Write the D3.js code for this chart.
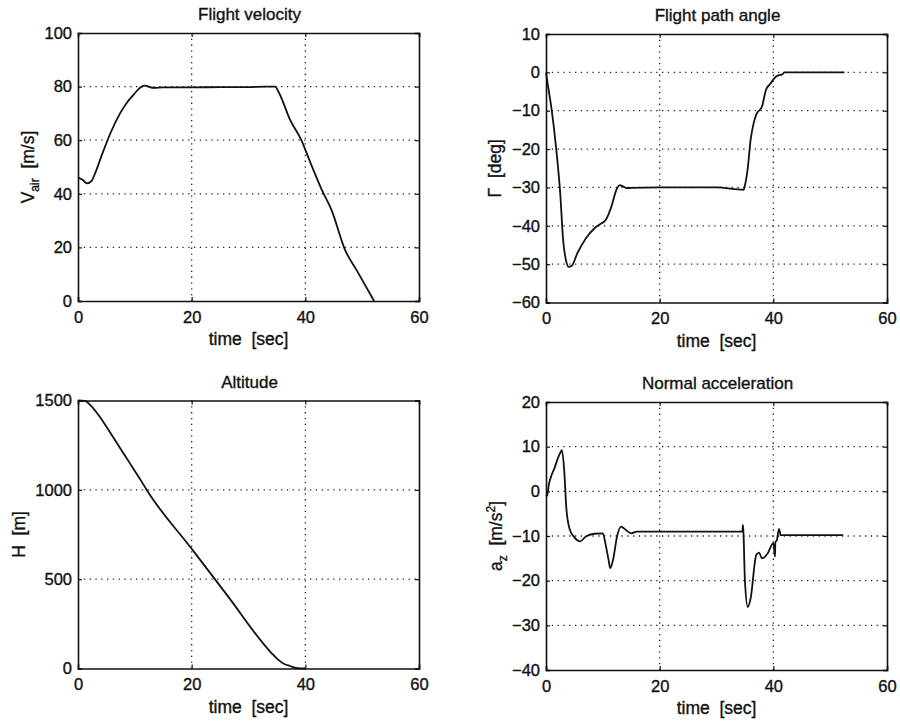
<!DOCTYPE html>
<html>
<head>
<meta charset="utf-8">
<script src="https://cdn.jsdelivr.net/npm/d3@7"></script>
<style>
  body { margin: 0; background: #fff; }
  svg text { font-family: "Liberation Sans", Arial, Helvetica, sans-serif; fill: #111; stroke: #111; stroke-width: 0.35px; }
</style>
</head>
<body>
<div id="chart"></div>
<script>
// ---------------- data ----------------
const timeTicks = [0, 20, 40, 60]

// Flight velocity [m/s]
const velocityTime = [0, 0.8, 1.6, 2.4, 3.0, 4.2, 5.7, 7.4, 8.6, 9.8, 10.6, 11.2, 11.8, 12.4, 13.3, 15, 20, 25, 30, 33, 34.7, 35.3, 37.3, 39.4, 40.8, 42.9, 44.6, 47, 49, 52.1]
const velocityValues = [46.2, 45.2, 43.9, 44.8, 47.6, 54.5, 62.6, 70, 74, 77, 79, 80, 80.4, 80, 79.5, 79.7, 79.7, 79.8, 79.8, 80, 80, 78, 67.7, 59.6, 52.1, 41.5, 34, 19, 11.6, 0]
const velocityTicks = [0, 20, 40, 60, 80, 100]

// Flight path angle [deg]
const gammaTime = [0, 0.3, 1, 1.8, 2.5, 3, 3.5, 4, 4.5, 5.5, 7, 8.5, 9.5, 10.5, 11, 11.5, 12.5, 13, 13.5, 14.2, 15, 20, 25, 30, 34.8, 35, 35.5, 36, 36.5, 37, 38, 38.7, 39.5, 40.5, 41, 41.5, 42, 45, 50, 52.5]
const gammaValues = [0, -3, -9.8, -20, -31.5, -43.5, -48.9, -50.7, -50.5, -47.2, -43.3, -40.7, -39.6, -38.5, -37, -35, -30.2, -29.4, -29.7, -30.2, -30.1, -30, -30, -30, -30.6, -29.5, -25, -17.6, -13.5, -11, -8.9, -4.6, -2.9, -1.1, -0.7, -0.6, 0, 0, 0, 0]
const gammaTicks = [-60, -50, -40, -30, -20, -10, 0, 10]

// Altitude [m]
const altitudeTime = [0, 1.2, 2.3, 3.6, 6.5, 9, 11.2, 12.1, 20, 26.2, 34, 35.25, 36.3, 37.3, 38.3, 39.1, 40]
const altitudeValues = [1500, 1498, 1470, 1419, 1279, 1155, 1046, 999, 670, 412, 88, 48, 25, 14, 4, 1, 0]
const altitudeTicks = [0, 500, 1000, 1500]

// Normal acceleration [m/s^2]
const accelTime = [0, 0.2, 0.5, 1, 1.5, 2, 2.5, 2.8, 3.2, 3.6, 4.2, 5, 6, 7, 8.5, 10, 10.5, 11, 11.3, 11.8, 12.5, 13.2, 14, 15, 16, 20, 25, 30, 34.55, 34.65, 34.75, 35, 35.5, 36, 37, 37.5, 38, 39, 40, 40.3, 40.35, 40.6, 41, 41.3, 42, 45, 50, 52.3]
const accelValues = [-0.8, -1, 1.5, 3.7, 5.2, 7.1, 8.6, 9.2, 4.8, -4.1, -8.6, -10.3, -11.2, -10.1, -9.5, -9.4, -12, -15.3, -17.2, -15.3, -10.1, -7.9, -8.6, -9.4, -9, -9, -9, -9, -9, -7.5, -9.5, -20, -25.9, -24, -14.2, -13.7, -15, -13.9, -11.6, -14.6, -11.4, -11, -8.4, -9.8, -9.8, -9.8, -9.8, -9.8]
const accelTicks = [-40, -30, -20, -10, 0, 10, 20]

// ---------------- layout ----------------
const width = 900
const height = 721

const panels = [
    { title: "Flight velocity", t: velocityTime, v: velocityValues, yTicks: velocityTicks,
      x0: 78, x1: 419, y0: 33, y1: 301, ylabel: "vair", labelX: 28 },
    { title: "Flight path angle", t: gammaTime, v: gammaValues, yTicks: gammaTicks,
      x0: 546, x1: 887, y0: 34, y1: 302.5, ylabel: "gamma", labelX: 495 },
    { title: "Altitude", t: altitudeTime, v: altitudeValues, yTicks: altitudeTicks,
      x0: 78, x1: 419, y0: 400.5, y1: 668.5, ylabel: "H", labelX: 19 },
    { title: "Normal acceleration", t: accelTime, v: accelValues, yTicks: accelTicks,
      x0: 546, x1: 887, y0: 402, y1: 670, ylabel: "az", labelX: 496 }
]

const svg = d3.select("#chart")
    .append("svg")
    .attr("width", width)
    .attr("height", height)

panels.forEach(p => {
    const xScale = d3.scaleLinear()
        .domain([0, 60])
        .range([p.x0, p.x1])

    const yScale = d3.scaleLinear()
        .domain(d3.extent(p.yTicks))
        .range([p.y1, p.y0])

    const g = svg.append("g")

    // grid (dotted)
    g.append("g").selectAll("line")
        .data(timeTicks.slice(1, -1))
        .join("line")
        .attr("x1", d => xScale(d)).attr("x2", d => xScale(d))
        .attr("y1", p.y0).attr("y2", p.y1)
        .attr("stroke", "#222").attr("stroke-width", 1.3)
        .attr("stroke-dasharray", "1.3,4.5")

    g.append("g").selectAll("line")
        .data(p.yTicks.slice(1, -1))
        .join("line")
        .attr("x1", p.x0).attr("x2", p.x1)
        .attr("y1", d => yScale(d)).attr("y2", d => yScale(d))
        .attr("stroke", "#222").attr("stroke-width", 1.3)
        .attr("stroke-dasharray", "1.3,4.5")

    // axes with inward ticks, matlab style
    const xAxis = d3.axisBottom(xScale).tickValues(timeTicks).tickSize(-4).tickPadding(10).tickFormat(d3.format("d"))
    const yAxis = d3.axisLeft(yScale).tickValues(p.yTicks).tickSize(-4).tickPadding(6).tickFormat(d => d < 0 ? "\u2212" + Math.abs(d) : d)
    const xAxisTop = d3.axisTop(xScale).tickValues(timeTicks).tickSize(-4).tickFormat("")
    const yAxisRight = d3.axisRight(yScale).tickValues(p.yTicks).tickSize(-4).tickFormat("")

    const styleAxis = sel => {
        sel.select(".domain").attr("stroke", "#111").attr("stroke-width", 1.6)
        sel.selectAll(".tick line").attr("stroke", "#111").attr("stroke-width", 1.2)
        sel.selectAll("text").attr("font-size", 16.5).attr("fill", "#111")
            .attr("font-family", "'Liberation Sans', Arial, sans-serif")
    }

    g.append("g").attr("transform", `translate(0,${p.y1})`).call(xAxis).call(styleAxis)
    g.append("g").attr("transform", `translate(${p.x0},0)`).call(yAxis).call(styleAxis)
    g.append("g").attr("transform", `translate(0,${p.y0})`).call(xAxisTop).call(styleAxis)
    g.append("g").attr("transform", `translate(${p.x1},0)`).call(yAxisRight).call(styleAxis)

    // curve
    const lineGenerator = d3.line()
        .x((d, i) => xScale(p.t[i]))
        .y(d => yScale(d))
        .curve(d3.curveMonotoneX)

    g.append("path")
        .attr("d", lineGenerator(p.v))
        .attr("fill", "none")
        .attr("stroke", "#111")
        .attr("stroke-width", 1.8)
        .attr("stroke-linejoin", "round")

    // title
    g.append("text")
        .attr("x", (p.x0 + p.x1) / 2 + 1)
        .attr("y", p.y0 - 13)
        .attr("text-anchor", "middle")
        .attr("font-size", 17)
        .text(p.title)

    // x label
    g.append("text")
        .attr("x", (p.x0 + p.x1) / 2)
        .attr("y", p.y1 + 44)
        .attr("text-anchor", "middle")
        .attr("font-size", 17.5)
        .attr("xml:space", "preserve")
        .text("time  [sec]")

    // y label
    const yl = g.append("text")
        .attr("transform", `translate(${p.labelX},${(p.y0 + p.y1) / 2}) rotate(-90)`)
        .attr("text-anchor", "middle")
        .attr("dy", "0.35em")
        .attr("font-size", 17.5)
        .attr("xml:space", "preserve")

    if (p.ylabel === "vair") {
        yl.append("tspan").text("V")
        yl.append("tspan").attr("font-size", 12).attr("dy", 5).text("air")
        yl.append("tspan").attr("dy", -5).text("  [m/s]")
    } else if (p.ylabel === "gamma") {
        yl.text("\u0393  [deg]")
    } else if (p.ylabel === "H") {
        yl.text("H  [m]")
    } else {
        yl.append("tspan").text("a")
        yl.append("tspan").attr("font-size", 12).attr("dy", 5).text("z")
        yl.append("tspan").attr("dy", -5).text("  [m/s")
        yl.append("tspan").attr("font-size", 12).attr("dy", -7).text("2")
        yl.append("tspan").attr("dy", 7).text("]")
    }
})
</script>
</body>
</html>
